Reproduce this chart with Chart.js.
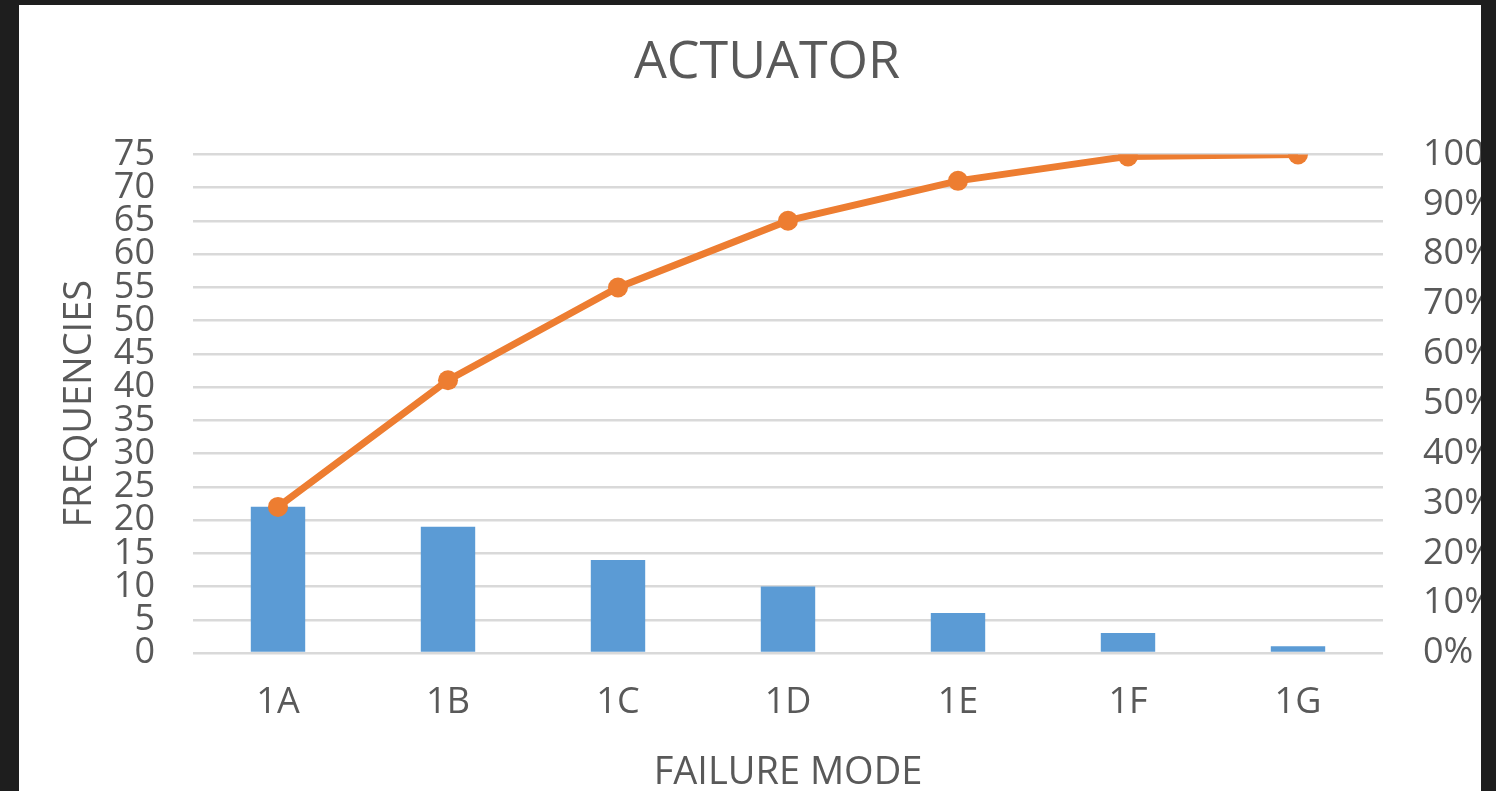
<!DOCTYPE html>
<html>
<head>
<meta charset="utf-8">
<script src="https://cdn.jsdelivr.net/npm/chart.js@4.4.1/dist/chart.umd.min.js"></script>
<style>
  html, body { margin: 0; padding: 0; background: #1e1e1e; width: 1496px; height: 791px; overflow: hidden; }
  .frame { position: absolute; left: 19px; top: 5px; width: 1462px; height: 786px; background: #fff; overflow: hidden; }
  .frame canvas { position: absolute; left: 0; top: 0; }
</style>
</head>
<body>
<div class="frame">
  <canvas id="pareto" width="1496" height="800" style="width:1496px;height:800px"></canvas>
</div>
<script>
// failure modes and how often each happened
const modes = ['1A', '1B', '1C', '1D', '1E', '1F', '1G'];
const frequencies = [22, 19, 14, 10, 6, 3, 1];
// cumulative share
const cumulativePct = [29.3, 54.7, 73.3, 86.7, 94.7, 99.6, 100];

const textGray = '#595959';
const fontFamily = '"Open Sans", "Segoe UI", sans-serif';

const ctx = document.getElementById('pareto').getContext('2d');

new Chart(ctx, {
  type: 'bar',
  data: {
    labels: modes,
    datasets: [
      {
        type: 'line',
        label: 'Cumulative %',
        data: cumulativePct,
        yAxisID: 'yPct',
        borderColor: '#ED7D31',
        backgroundColor: '#ED7D31',
        borderWidth: 7,
        pointRadius: 10,
        pointHoverRadius: 10,
        pointBorderWidth: 0,
        tension: 0,
        order: 0
      },
      {
        type: 'bar',
        label: 'Frequency',
        data: frequencies,
        yAxisID: 'y',
        backgroundColor: '#5B9BD5',
        barPercentage: 0.32,
        categoryPercentage: 1,
        order: 1
      }
    ]
  },
  options: {
    responsive: false,
    animation: false,
    layout: { padding: 0 },
    plugins: {
      legend: { display: false },
      tooltip: { enabled: false },
      title: {
        display: true,
        text: 'ACTUATOR',
        color: textGray,
        font: { family: fontFamily, size: 52, weight: 'normal', lineHeight: 1.2 },
        padding: { top: 27, bottom: 60 }
      }
    },
    scales: {
      x: {
        grid: { display: false, drawTicks: false },
        border: { display: false },
        ticks: {
          color: textGray,
          font: { family: fontFamily, size: 36 },
          padding: 28
        },
        title: {
          display: true,
          text: 'FAILURE MODE',
          color: textGray,
          font: { family: fontFamily, size: 38, lineHeight: 1.2 },
          padding: { top: 0, bottom: 9 }
        },
        afterFit: (scale) => { scale.height = 152; }
      },
      y: {
        position: 'left',
        min: 0,
        max: 75,
        grid: { color: '#d9d9d9', lineWidth: 2.5, drawTicks: false },
        border: { display: false },
        ticks: {
          stepSize: 5,
          autoSkip: false,
          color: textGray,
          font: { family: fontFamily, size: 36, lineHeight: 1 },
          padding: 38
        },
        title: {
          display: true,
          text: 'FREQUENCIES',
          color: textGray,
          font: { family: fontFamily, size: 38, lineHeight: 1.2 },
          padding: { top: 38, bottom: 0 }
        },
        afterFit: (scale) => { scale.width = 174; }
      },
      yPct: {
        position: 'right',
        min: 0,
        max: 100,
        grid: { display: false, drawTicks: false },
        border: { display: false },
        ticks: {
          stepSize: 10,
          autoSkip: false,
          color: textGray,
          font: { family: fontFamily, size: 36, lineHeight: 1 },
          padding: 40,
          callback: (v) => v + '%'
        },
        afterFit: (scale) => { scale.width = 132; }
      }
    }
  }
});
</script>
</body>
</html>
